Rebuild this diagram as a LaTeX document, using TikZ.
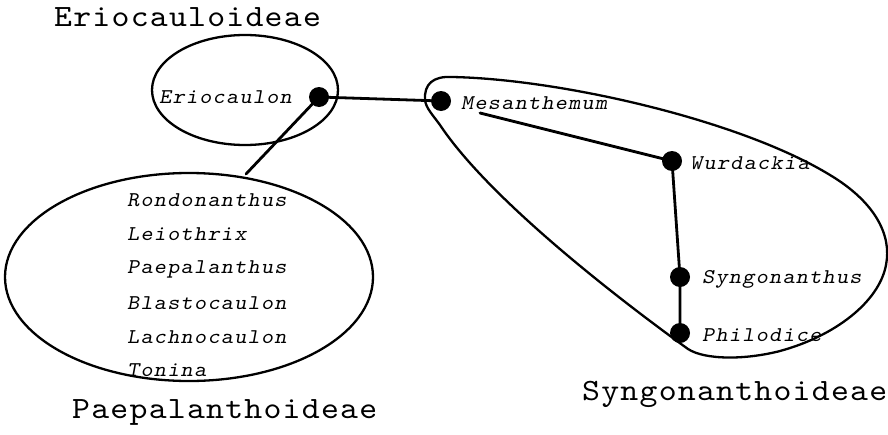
\documentclass[tikz,border=0pt]{standalone}
\usepackage{fontspec}
% typewriter faces, slightly widened and tracked
\newfontfamily\genusfont{lmmonoslant10-regular.otf}[FakeStretch=1.1,LetterSpace=6]
\newfontfamily\subfamfont{lmmono10-regular.otf}[FakeStretch=1.1,LetterSpace=4]
\begin{document}
\begin{tikzpicture}[x=1pt,y=-1pt,
  every node/.style={inner sep=0pt},
  edge/.style={line width=2.8pt,line cap=round},
  rim/.style={line width=2.3pt},
  taxon/.style={circle,fill=black,minimum size=20pt},
  genus/.style={anchor=west,font=\genusfont\fontsize{21}{23}\selectfont},
  subfam/.style={anchor=west,font=\subfamfont\fontsize{31}{33}\selectfont}]
\useasboundingbox (0,0) rectangle (888,434);

% subfamily outlines
\draw[rim] (245,90) ellipse [x radius=93, y radius=55];
\draw[rim] (189,277) ellipse [x radius=184, y radius=104];
\draw[rim] (425,100) .. controls (424,84) and (433,76) .. (452,77)
  .. controls (560,79) and (740,120) .. (830,175)
  .. controls (875,202) and (892,235) .. (886,265)
  .. controls (879,302) and (835,336) .. (780,351)
  .. controls (745,360) and (705,360) .. (688,349)
  .. controls (620,300) and (490,200) .. (440,125)
  .. controls (432,114) and (426,108) .. cycle;

% genera
\node[taxon] (erio) at (319,97) {};
\node[taxon] (mesa) at (441,101) {};
\node[taxon] (wurd) at (672,161) {};
\node[taxon] (syng) at (680,277) {};
\node[taxon] (phil) at (680,333) {};
\coordinate (paep) at (246,174);
\coordinate (mfoot) at (480,113);

\node[genus] (lerio) at (159,97) {Eriocaulon};
\node[genus] (lmesa) at (461,103) {Mesanthemum};
\node[genus] (lwurd) at (690,163) {Wurdackia};
\node[genus] (lsyng) at (702,279) {Syngonanthus};
\node[genus] (lphil) at (702,335) {Philodice};

\node[genus] (g1) at (127,200) {Rondonanthus};
\node[genus] (g2) at (127,234) {Leiothrix};
\node[genus] (g3) at (127,269) {Paepalanthus};
\node[genus] (g4) at (127,303) {Blastocaulon};
\node[genus] (g5) at (127,337) {Lachnocaulon};
\node[genus] (g6) at (127,370) {Tonina};

% connectors
\draw[edge] (erio.center) -- (mesa.center);
\draw[edge] (erio.center) -- (paep);
\draw[edge] (mfoot) -- (wurd.center);
\draw[edge] (wurd.center) -- (syng.center) -- (phil.center);

% subfamily names
\node[subfam] (t1) at (54,17) {Eriocauloideae};
\node[subfam] (t2) at (72,412) {Paepalanthoideae};
\node[subfam] (t3) at (582,394) {Syngonanthoideae};
\end{tikzpicture}
\end{document}
